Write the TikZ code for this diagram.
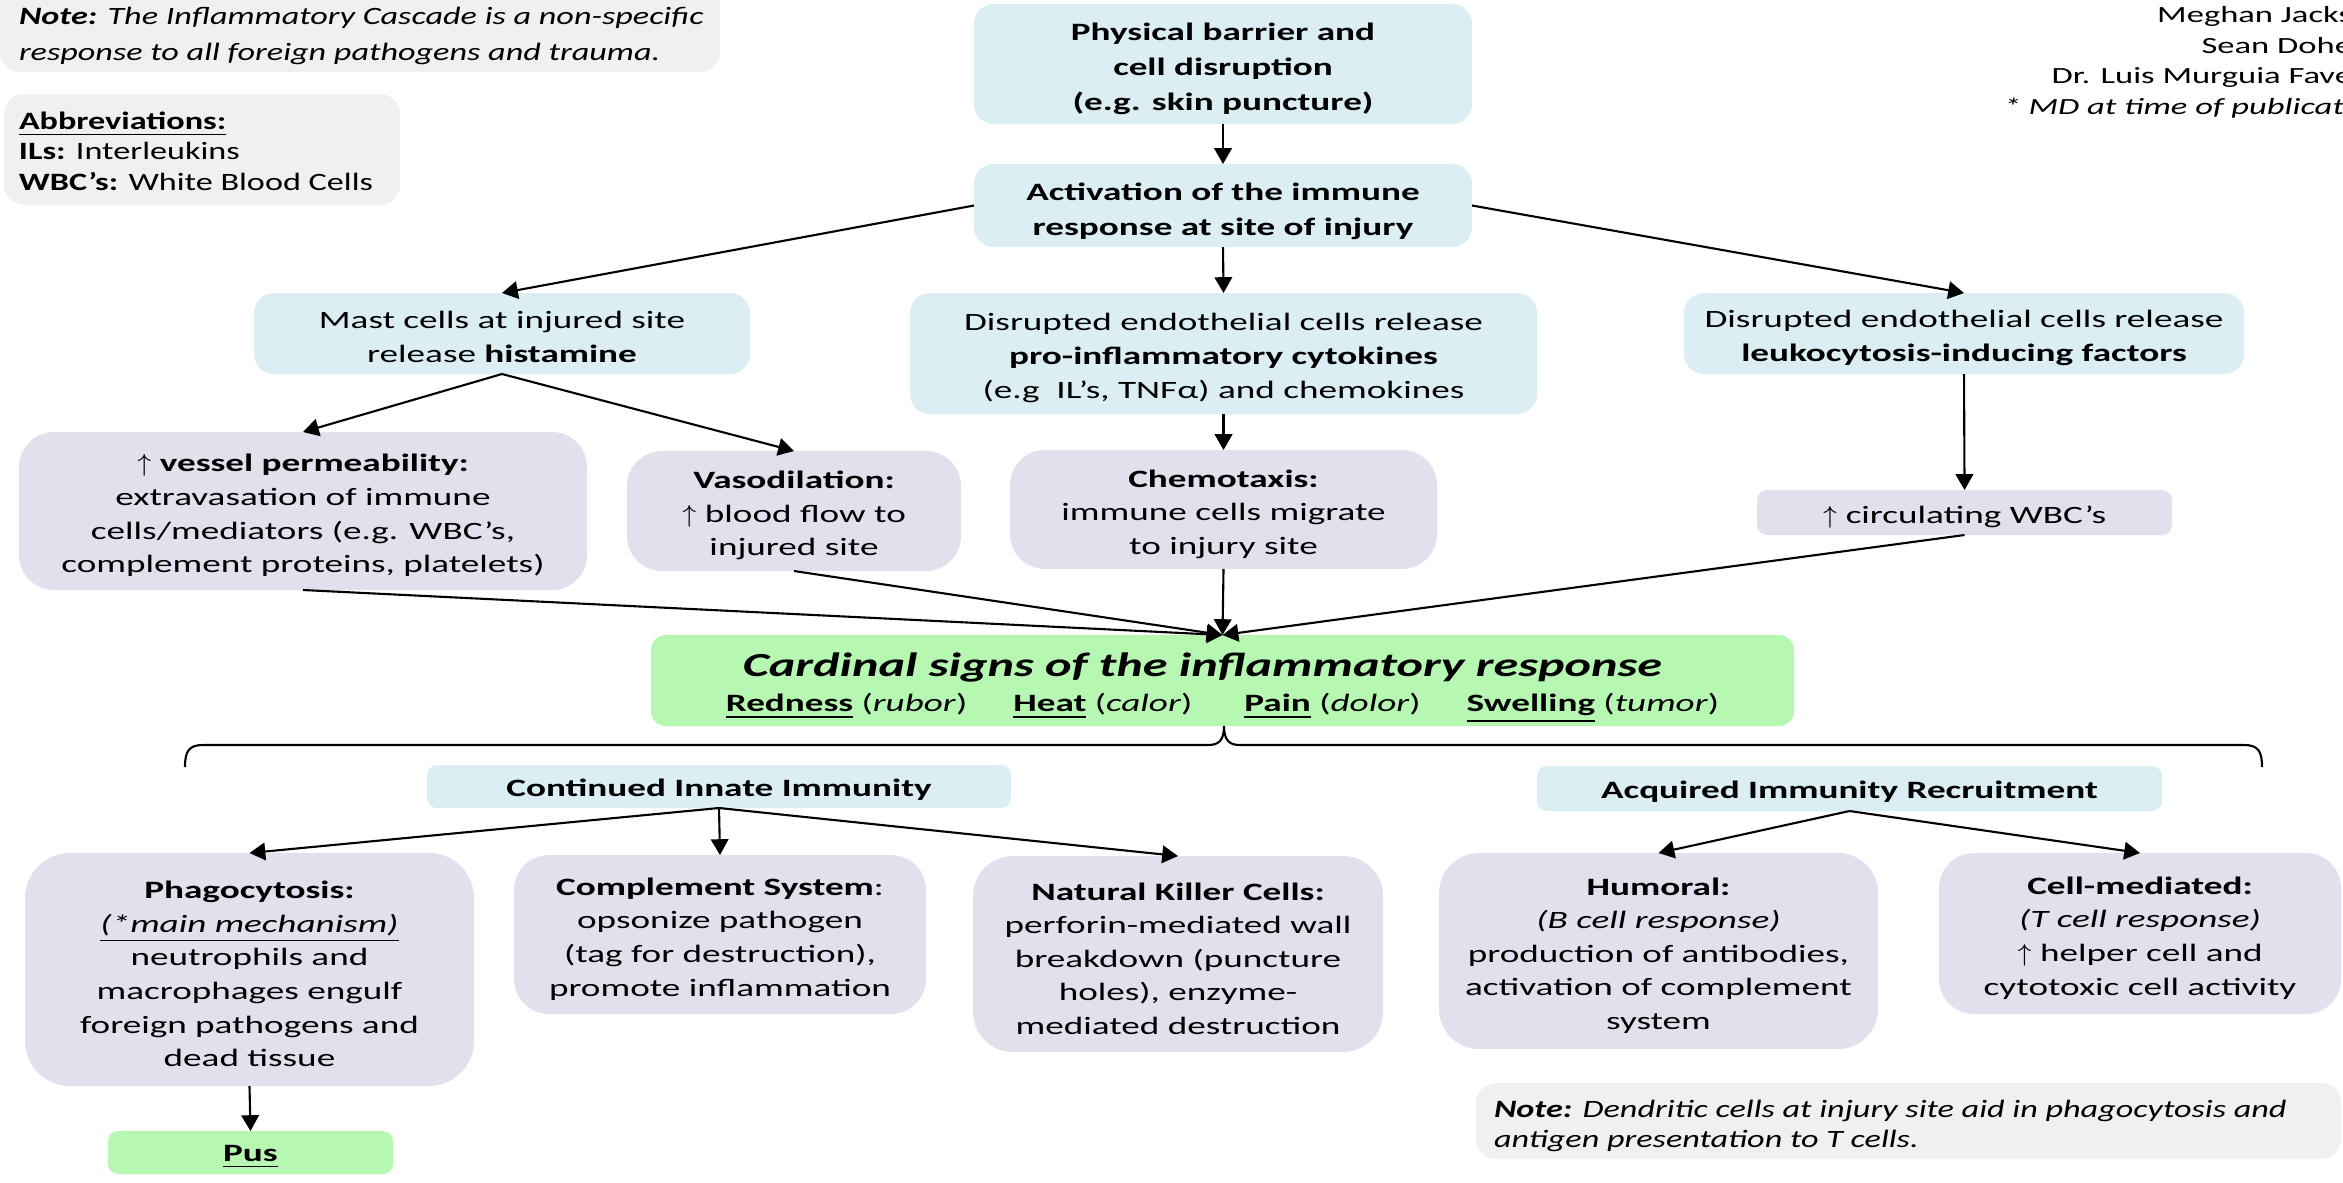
\documentclass[tikz,border=0pt]{standalone}
\usepackage{fontspec}
\setmainfont{Carlito}[FakeStretch=1.49]
\newfontfamily\notefont{Carlito}[FakeStretch=1.37]
\usetikzlibrary{arrows.meta}
\definecolor{cBlue}{HTML}{DAEEF3}
\definecolor{cPurple}{HTML}{E4DFEC}
\definecolor{cGreen}{RGB}{182,247,178}
\definecolor{cGrey}{HTML}{F0F0F0}
\begin{document}
\begin{tikzpicture}[x=0.1mm, y=-0.1mm,
  shape base/.style={inner sep=0pt, outer sep=0pt},
  sz/.style 2 args={minimum width=#1*0.1mm, minimum height=#2*0.1mm},
  bluebox/.style={shape base, fill=cBlue, rounded corners=2mm},
  purplebox/.style={shape base, fill=cPurple, rounded corners=3.5mm},
  greenbox/.style={shape base, fill=cGreen, rounded corners=1.5mm},
  greybox/.style={shape base, fill=cGrey, rounded corners=2mm},
  txt/.style={inner sep=0pt, outer sep=0pt, align=center, text=black, font=\fontsize{7.1}{9.8}\selectfont, yshift=-0.45mm},
  ptxt/.style={txt, font=\fontsize{7.1}{9.55}\selectfont},
  boldtxt/.style={txt, font=\fontsize{7.1}{10}\selectfont\bfseries},
  notetext/.style={inner sep=0pt, outer sep=0pt, align=left, text=black, font=\notefont\fontsize{7.1}{10}\selectfont},
  arr/.style={draw=black, line width=0.6pt, -{Triangle[length=4.5pt, width=5pt]}},
  bracketline/.style={draw=black, line width=0.6pt},
]
\useasboundingbox (0,0) rectangle (2343,1182);

% ---------- notes and authors ----------
\node[greybox, sz={720}{92}] (noteTop) at (360,26) {};
\node[notetext, anchor=west] (noteTopText) at (19,36)
  {\textbf{\textit{Note:}} \textit{The Inflammatory Cascade is a non-specific}\\\textit{response to all foreign pathogens and trauma.}};

\node[greybox, sz={396}{111}] (abbr) at (202,149.5) {};
\node[notetext, anchor=west, font=\notefont\fontsize{7.1}{8.7}\selectfont] (abbrText) at (19,151)
  {\underline{\textbf{Abbreviations:}}\\\textbf{ILs:} Interleukins\\\textbf{WBC’s:} White Blood Cells};

\node[inner sep=0pt, outer sep=0pt, align=right, anchor=north east, font=\fontsize{6.6}{8.8}\selectfont] (authors) at (2352,6)
  {Meghan Jacks\\Sean Dohe\\Dr. Luis Murguia Fave\\\textit{* MD at time of publicati}};

\node[greybox, sz={865}{76}] (noteBot) at (1908.5,1121) {};
\node[notetext, anchor=west, font=\notefont\fontsize{7.1}{8.6}\selectfont] (noteBotText) at (1494,1126)
  {\textbf{\textit{Note:}} \textit{Dendritic cells at injury site aid in phagocytosis and}\\\textit{antigen presentation to T cells.}};

% ---------- box shapes ----------
\node[bluebox, sz={498}{120}] (phys) at (1223,64) {};
\node[bluebox, sz={498}{83}] (act) at (1223,205.5) {};
\node[bluebox, sz={496}{81}] (mast) at (502,333.5) {};
\node[bluebox, sz={627}{121}] (mid) at (1223.5,353.5) {};
\node[bluebox, sz={560}{81}] (right) at (1964,333.5) {};
\node[purplebox, sz={568}{158}] (vessel) at (303,511) {};
\node[purplebox, sz={334}{120}] (vaso) at (794,511) {};
\node[purplebox, sz={427}{119}] (chemo) at (1223.5,509.5) {};
\node[purplebox, sz={415}{45}, rounded corners=1mm] (circ) at (1964.5,512.5) {};
\node[greenbox, sz={1143}{91}] (card) at (1222.5,680.5) {};
\node[bluebox, sz={584}{43}, rounded corners=1mm] (innate) at (719,786.5) {};
\node[bluebox, sz={625}{45}, rounded corners=1mm] (acq) at (1849.5,788.5) {};
\node[purplebox, sz={449}{233}, rounded corners=4.5mm] (phago) at (249.5,969.5) {};
\node[purplebox, sz={412}{159}] (comp) at (720,934.5) {};
\node[purplebox, sz={410}{196}, rounded corners=4mm] (nk) at (1178,954) {};
\node[purplebox, sz={439}{196}, rounded corners=4mm] (hum) at (1658.5,951) {};
\node[purplebox, sz={402}{161}] (cell) at (2140,933.5) {};
\node[greenbox, sz={285}{43}, rounded corners=1mm] (pus) at (250.5,1152.5) {};

% ---------- box texts ----------
\node[boldtxt] (physT) at (phys.center) {Physical barrier and\\cell disruption\\(e.g. skin puncture)};
\node[boldtxt, yshift=-0.12mm] (actT) at (act.center) {Activation of the immune\\response at site of injury};
\node[txt, yshift=0.12mm] (mastT) at (mast.center) {Mast cells at injured site\\release \textbf{histamine}};
\node[txt] (midT) at (mid.center) {Disrupted endothelial cells release\\\textbf{pro-inflammatory cytokines}\\(e.g\ \ IL’s, TNFα) and chemokines};
\node[txt] (rightT) at (right.center) {Disrupted endothelial cells release\\\textbf{leukocytosis-inducing factors}};
\node[ptxt] (vesselT) at (vessel.center) {\textbf{$\uparrow$ vessel permeability:}\\extravasation of immune\\cells/mediators (e.g. WBC’s,\\complement proteins, platelets)};
\node[ptxt] (vasoT) at (vaso.center) {\textbf{Vasodilation:}\\$\uparrow$ blood flow to\\injured site};
\node[ptxt] (chemoT) at (chemo.center) {\textbf{Chemotaxis:}\\immune cells migrate\\to injury site};
\node[ptxt] (circT) at (circ.center) {$\uparrow$ circulating WBC’s};
\node[txt, yshift=-0.3mm] (cardT) at (card.center)
  {{\fontsize{9.6}{11}\selectfont\bfseries\itshape Cardinal signs of the inflammatory response}\hspace*{4mm}\\[0.3pt]
   \underline{\textbf{Redness}} (\textit{rubor})\hspace{4.6mm}\underline{\textbf{Heat}} (\textit{calor})\hspace{5.2mm}\underline{\textbf{Pain}} (\textit{dolor})\hspace{4.6mm}\underline{\textbf{Swelling}} (\textit{tumor})};
\node[boldtxt, yshift=0.1mm] (innateT) at (innate.center) {Continued Innate Immunity};
\node[boldtxt, yshift=0.1mm] (acqT) at (acq.center) {Acquired Immunity Recruitment};
\node[ptxt] (phagoT) at (phago.center) {\textbf{Phagocytosis:}\\\underline{\textit{(*main mechanism)}}\\neutrophils and\\macrophages engulf\\foreign pathogens and\\dead tissue};
\node[ptxt] (compT) at (comp.center) {\textbf{Complement System}:\\opsonize pathogen\\(tag for destruction),\\promote inflammation};
\node[ptxt] (nkT) at (nk.center) {\textbf{Natural Killer Cells:}\\perforin-mediated wall\\breakdown (puncture\\holes), enzyme-\\mediated destruction};
\node[ptxt] (humT) at (hum.center) {\textbf{Humoral:}\\\textit{(B cell response)}\\production of antibodies,\\activation of complement\\system};
\node[ptxt] (cellT) at (cell.center) {\textbf{Cell-mediated:}\\\textit{(T cell response)}\\$\uparrow$ helper cell and\\cytotoxic cell activity};
\node[txt] (pusT) at (pus.center) {\underline{\textbf{Pus}}};

% bracket
\coordinate (brL) at (185,767);
\coordinate (brR) at (2262,767);
\coordinate (brC) at (1224,726);
\draw[bracketline] (brL) .. controls (185,751) and (189,745) .. (203,745) -- (1208,745)
  .. controls (1219,745) and (1224,740) .. (brC)
  .. controls (1224,740) and (1229,745) .. (1240,745) -- (2244,745)
  .. controls (2258,745) and (2262,751) .. (brR);

% ---------- connectors ----------
\draw[arr] (phys.south) -- (act.north);
\draw[arr] (act.west) -- (mast.north);
\draw[arr] (act.south) -- (mid.north);
\draw[arr] (act.east) -- (right.north);
\draw[arr] (mast.south) -- (vessel.north);
\draw[arr] (mast.south) -- (vaso.north);
\draw[arr] (mid.south) -- (chemo.north);
\draw[arr] (right.south) -- (circ.north);
\draw[arr] (vessel.south) -- (card.north);
\draw[arr] (vaso.south) -- (card.north);
\draw[arr] (chemo.south) -- (card.north);
\draw[arr] (circ.south) -- (card.north);
\draw[arr] (innate.south) -- (phago.north);
\draw[arr] (innate.south) -- (comp.north);
\draw[arr] (innate.south) -- (nk.north);
\draw[arr] (acq.south) -- (hum.north);
\draw[arr] (acq.south) -- (cell.north);
\draw[arr] (phago.south) -- (pus.north);
\end{tikzpicture}
\end{document}
